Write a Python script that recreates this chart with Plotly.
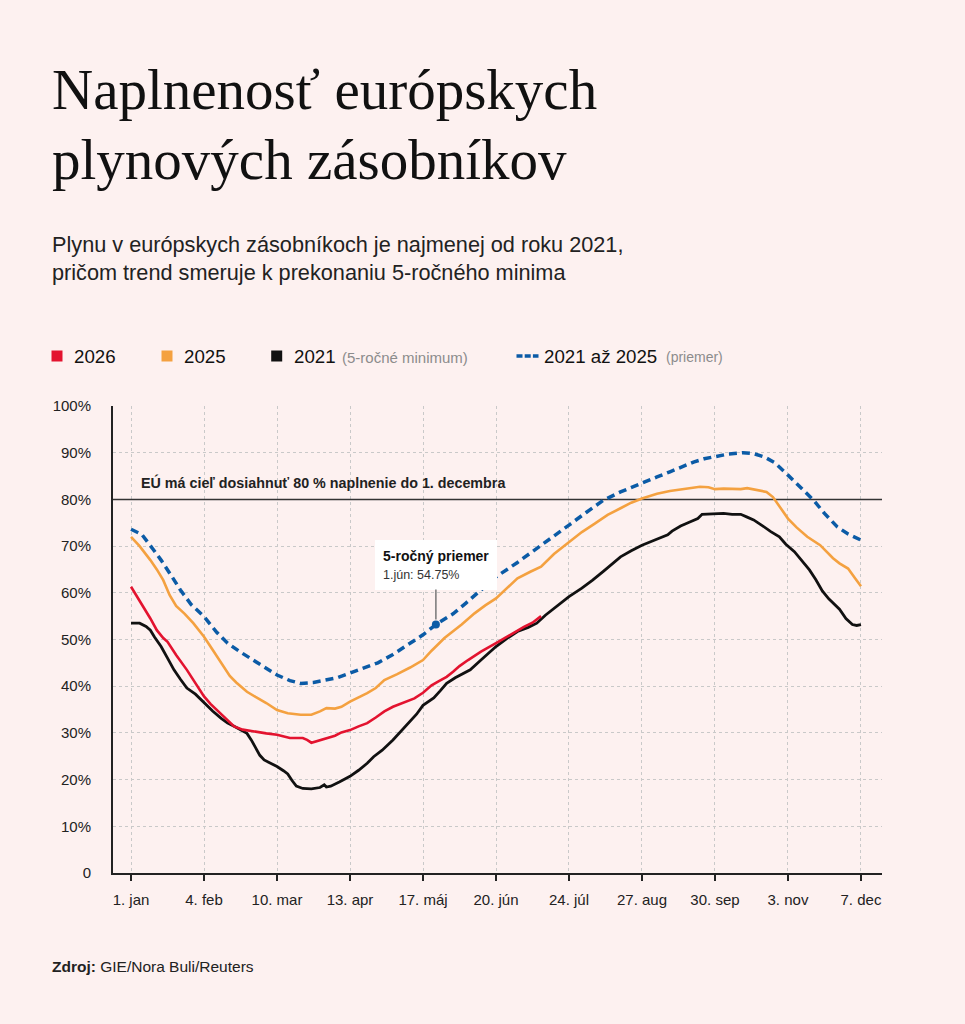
import plotly.graph_objects as go

# Naplnenost zasobnikov (% kapacity), x = pocet dni od 1. januara
den_priemer = [0, 5, 10, 14, 19, 23, 28, 34, 40, 45, 51, 57, 63, 68, 74, 79, 85, 91, 96, 102,
               108, 115, 122, 129, 136, 142, 150, 156, 163, 170, 180, 190, 197, 204, 212, 220,
               228, 237, 245, 251, 257, 262, 267, 272, 278, 285, 290, 295, 300, 306, 312, 318,
               323, 329, 334, 340]
priemer = [73.6, 72.5, 69.5, 67.0, 63.5, 60.6, 57.5, 54.9, 51.5, 49.2, 47.3, 45.6, 43.8, 42.4,
           41.2, 40.6, 40.8, 41.3, 41.8, 42.8, 43.8, 45.0, 46.8, 48.8, 51.0, 53.2, 55.5, 57.8,
           60.5, 63.4, 66.5, 69.8, 72.0, 74.5, 77.2, 79.8, 81.6, 83.4, 84.8, 85.9, 87.0, 88.0,
           88.7, 89.2, 89.7, 90.0, 89.8, 89.1, 87.8, 85.2, 82.5, 79.8, 77.0, 74.1, 72.6, 71.3]

den_2025 = [0, 4, 9, 12, 15, 18, 21, 25, 29, 34, 38, 42, 46, 49, 54, 58, 63, 68, 73, 79, 84,
            88, 91, 95, 98, 102, 106, 110, 114, 118, 124, 130, 136, 140, 146, 150, 154, 160,
            165, 170, 175, 180, 186, 191, 197, 204, 210, 216, 222, 228, 233, 238, 245, 251,
            258, 265, 269, 272, 276, 281, 284, 287, 292, 296, 299, 302, 306, 310, 315, 321,
            327, 330, 334, 337, 340]
r2025 = [72.0, 70.0, 67.0, 65.0, 62.7, 59.5, 57.2, 55.5, 53.5, 50.6, 47.8, 44.9, 42.2, 40.8,
         38.8, 37.7, 36.4, 34.9, 34.2, 33.9, 33.9, 34.6, 35.3, 35.2, 35.6, 36.7, 37.6, 38.5,
         39.6, 41.3, 42.6, 44.0, 45.6, 47.6, 50.3, 51.7, 53.2, 55.6, 57.3, 58.8, 61.0, 63.1,
         64.5, 65.6, 68.3, 70.9, 73.0, 74.8, 76.7, 78.1, 79.3, 80.2, 81.2, 81.8, 82.2, 82.7,
         82.6, 82.2, 82.3, 82.3, 82.2, 82.4, 82.0, 81.6, 80.5, 78.5, 75.9, 74.0, 72.0, 70.2,
         67.4, 66.3, 65.2, 63.3, 61.4]

den_2026 = [0, 3, 6, 9, 12, 15, 17, 21, 26, 30, 34, 37, 40, 44, 48, 52, 57, 63, 68, 71, 74,
            80, 82, 84, 87, 91, 95, 98, 102, 106, 110, 114, 118, 122, 127, 132, 136, 140, 143,
            147, 150, 153, 157, 163, 170, 176, 180, 183, 187, 191]
r2026 = [61.3, 59.0, 57.0, 54.5, 52.0, 50.3, 49.5, 46.7, 43.5, 40.5, 37.8, 36.2, 34.9, 33.0,
         31.4, 30.7, 30.3, 29.9, 29.6, 29.2, 28.9, 28.9, 28.5, 27.9, 28.3, 28.9, 29.4, 30.1,
         30.6, 31.4, 32.1, 33.3, 34.6, 35.6, 36.5, 37.4, 38.6, 40.2, 41.0, 42.0, 43.1, 44.3,
         45.6, 47.4, 49.2, 50.8, 52.0, 52.7, 53.6, 55.0]

den_2021 = [0, 4, 7, 9, 11, 14, 17, 20, 23, 26, 30, 34, 38, 42, 45, 48, 51, 54, 56, 58, 60,
            62, 65, 68, 71, 73, 75, 77, 80, 84, 88, 90, 91, 93, 97, 102, 106, 110, 113, 117,
            122, 126, 130, 133, 136, 141, 144, 147, 151, 155, 158, 163, 167, 170, 175, 180,
            185, 189, 193, 198, 204, 210, 215, 220, 224, 228, 233, 238, 244, 250, 252, 256,
            260, 264, 266, 272, 276, 280, 284, 287, 290, 294, 298, 302, 305, 309, 313, 316,
            319, 322, 325, 328, 330, 333, 336, 338, 340]
r2021 = [53.5, 53.5, 52.8, 52.0, 50.5, 48.5, 46.0, 43.5, 41.5, 39.6, 38.3, 36.4, 34.7, 33.1,
         32.1, 31.4, 30.7, 29.9, 28.5, 26.8, 25.2, 24.2, 23.5, 22.8, 21.9, 21.2, 19.8, 18.6,
         18.1, 18.0, 18.3, 18.9, 18.4, 18.6, 19.5, 20.7, 22.0, 23.5, 24.9, 26.3, 28.5, 30.5,
         32.5, 34.0, 35.9, 37.5, 39.0, 40.6, 41.8, 42.8, 43.5, 45.6, 47.3, 48.5, 50.2, 51.7,
         52.6, 53.5, 55.2, 57.0, 59.2, 61.0, 62.7, 64.6, 66.1, 67.7, 69.0, 70.2, 71.3, 72.4,
         73.2, 74.3, 75.1, 75.9, 76.8, 76.9, 77.0, 76.8, 76.8, 76.2, 75.6, 74.4, 73.1, 72.0,
         70.4, 68.8, 66.6, 64.9, 62.8, 60.4, 58.7, 57.3, 56.5, 54.5, 53.2, 53.0, 53.2]

# zvyrazneny bod priemeru
bod_den = [142]
bod_hodnota = [53.2]

CIEL = 80  # ciel EU v %

tick_dni = [0, 34, 68, 102, 136, 170, 204, 238, 272, 306, 340]
tick_text = ["1. jan", "4. feb", "10. mar", "13. apr", "17. máj", "20. jún",
             "24. júl", "27. aug", "30. sep", "3. nov", "7. dec"]
y_ticks = [0, 10, 20, 30, 40, 50, 60, 70, 80, 90, 100]
y_text = ["0"] + [f"{v}%" for v in y_ticks[1:]]

X_RANGE = [-8.4, 349.8]

RED = "#e3132f"
ORANGE = "#f4a140"
BLACK = "#111111"
BLUE = "#0b5ba6"
BG = "#fdf1f0"
SANS = "Liberation Sans, Arial, sans-serif"
SERIF = "Liberation Serif, Times New Roman, serif"

W, H = 965, 1024
L, R, T, B = 113, 83, 406, 151
PW, PH = W - L - R, H - T - B


def px(x):
    return (x - L) / PW


def py(y):
    return (H - B - y) / PH


fig = go.Figure()
# ciel 80 % ako ciara nad mriezkou, pod krivkami
fig.add_trace(go.Scatter(x=X_RANGE, y=[CIEL, CIEL], mode="lines",
                         line=dict(color="#333333", width=1.5)))
fig.add_trace(go.Scatter(x=den_priemer, y=priemer, mode="lines",
                         line=dict(color=BLUE, width=3.5, dash="8px,5px")))
fig.add_trace(go.Scatter(x=den_2025, y=r2025, mode="lines",
                         line=dict(color=ORANGE, width=2.6)))
fig.add_trace(go.Scatter(x=den_2021, y=r2021, mode="lines",
                         line=dict(color=BLACK, width=2.8)))
fig.add_trace(go.Scatter(x=den_2026, y=r2026, mode="lines",
                         line=dict(color=RED, width=2.6)))
fig.add_trace(go.Scatter(x=bod_den, y=bod_hodnota, mode="markers",
                         marker=dict(color=BLUE, size=8)))

ann = []
ann.append(dict(text="EÚ má cieľ dosiahnuť 80 % naplnenie do 1. decembra",
                x=px(139), y=py(482), xanchor="left", yanchor="middle",
                font=dict(size=14.3, color="#222", family=SANS, weight="bold")))

# tooltip
ann.append(dict(text="<b>5-ročný priemer</b><br><span style='font-size:12.5px;color:#333'>1.jún: 54.75%</span>",
                x=bod_den[0], y=bod_hodnota[0], xref="x", yref="y",
                showarrow=True, arrowhead=0, arrowwidth=1.5, arrowcolor="#777",
                ax=0, ay=-60, standoff=5, align="left",
                bgcolor="white", borderpad=8, borderwidth=0,
                font=dict(size=14, color="#111", family=SANS)))

# nadpis
ann.append(dict(text="Naplnenosť európskych", x=px(50), y=py(89.5),
                xanchor="left", yanchor="middle",
                font=dict(size=57, color="#111", family=SERIF)))
ann.append(dict(text="plynových zásobníkov", x=px(50), y=py(159.5),
                xanchor="left", yanchor="middle",
                font=dict(size=57, color="#111", family=SERIF)))
ann.append(dict(text="Plynu v európskych zásobníkoch je najmenej od roku 2021,<br>"
                     "pričom trend smeruje k prekonaniu 5-ročného minima",
                x=px(50), y=py(258.5), xanchor="left", yanchor="middle", align="left",
                font=dict(size=21.7, color="#222", family=SANS)))

# legenda
legenda = [(RED, 57, "2026", 72), (ORANGE, 167, "2025", 182), (BLACK, 276.7, "2021", 292)]
for farba, sx, txt, tx in legenda:
    fig.add_shape(type="rect", xref="paper", yref="paper",
                  x0=px(sx - 5.5), x1=px(sx + 5.5), y0=py(361.5), y1=py(350.5),
                  fillcolor=farba, line=dict(width=0))
    ann.append(dict(text=txt, x=px(tx), y=py(356), xanchor="left", yanchor="middle",
                    font=dict(size=18.7, color="#111", family=SANS)))
ann.append(dict(text="(5-ročné minimum)", x=px(340), y=py(357), xanchor="left",
                yanchor="middle", font=dict(size=15, color="#8c8c8c", family=SANS)))
fig.add_shape(type="line", xref="paper", yref="paper", x0=px(516.5), x1=px(538.5),
              y0=py(356), y1=py(356), line=dict(color=BLUE, width=3.4, dash="6px,2.2px"))
ann.append(dict(text="2021 až 2025", x=px(542), y=py(356), xanchor="left", yanchor="middle",
                font=dict(size=18.7, color="#111", family=SANS)))
ann.append(dict(text="(priemer)", x=px(663.5), y=py(357), xanchor="left", yanchor="middle",
                font=dict(size=14, color="#8c8c8c", family=SANS)))

# zdroj
ann.append(dict(text="<b>Zdroj:</b> GIE/Nora Buli/Reuters", x=px(50), y=py(966),
                xanchor="left", yanchor="middle",
                font=dict(size=15.5, color="#222", family=SANS)))

for a in ann:
    a.setdefault("xref", "paper")
    a.setdefault("yref", "paper")
    a.setdefault("showarrow", False)
    fig.add_annotation(**a)

fig.update_layout(
    width=W, height=H,
    margin=dict(l=L, r=R, t=T, b=B, autoexpand=False),
    paper_bgcolor=BG, plot_bgcolor=BG,
    showlegend=False,
    font=dict(family=SANS, color="#222"),
    hovermode=False,
)
fig.update_xaxes(range=X_RANGE, tickvals=tick_dni, ticktext=tick_text,
                 showline=True, linecolor="#222", linewidth=2,
                 ticks="outside", ticklen=6, tickwidth=1.5, tickcolor="#222",
                 showgrid=True, gridcolor="#c9c9c9", gridwidth=1, griddash="3px,3px",
                 tickfont=dict(size=15, color="#222"), ticklabelstandoff=6, zeroline=False)
fig.update_yaxes(range=[0, 100], tickvals=y_ticks, ticktext=y_text,
                 showline=True, linecolor="#222", linewidth=2, ticks="",
                 showgrid=True, gridcolor="#c9c9c9", gridwidth=1, griddash="3px,3px",
                 tickfont=dict(size=15, color="#222"), ticklabelstandoff=17, zeroline=False)

# bez okraja stranky, aby graf sedel v rohu okna
fig.write_html("out.html", config={"displayModeBar": False},
               post_script="document.body.style.margin='0';"
                           f"document.body.style.background='{BG}';")
